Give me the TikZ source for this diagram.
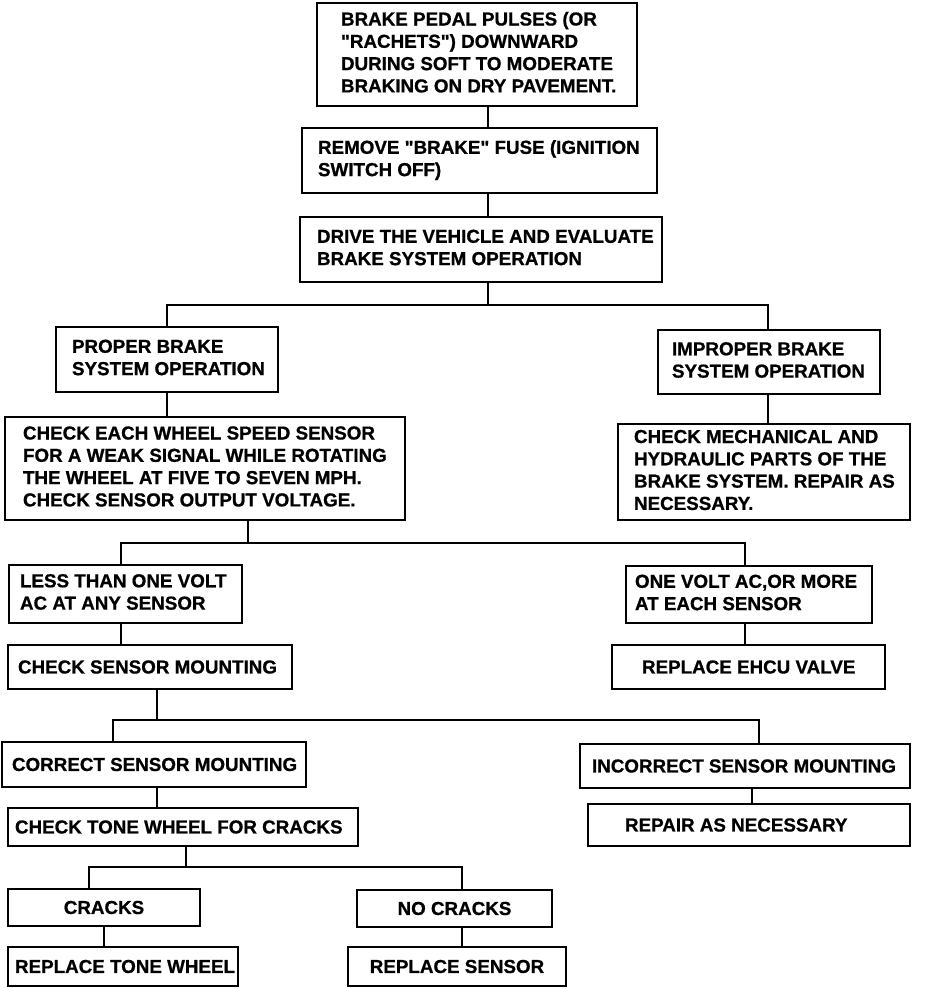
\documentclass[tikz,border=0pt]{standalone}
\usepackage{fontspec}
\newfontfamily\boxfont{Liberation Sans}[BoldFeatures={FakeBold=0.8}]
\newcommand{\lbox}[1]{\makebox[\tw pt][l]{\begin{tabular}{@{}l@{}}#1\end{tabular}}}
\newcommand{\lboxs}[1]{\raisebox{-3.5pt}{\makebox[\tw pt][l]{#1}}}
\newcommand{\cboxs}[1]{\raisebox{-3.5pt}{#1}}
\tikzset{
  bx/.style={draw, line width=2.6pt, inner ysep=0pt,
    font=\boxfont\bfseries\fontsize{18.8}{22.3}\selectfont},
  conn/.style={line width=2.6pt, line join=miter},
  dims/.code n args={3}{\pgfmathsetmacro\tw{#1-2*#3}%
    \tikzset{minimum width=#1pt, minimum height=#2pt, inner xsep=#3pt}},
}
\begin{document}
\begin{tikzpicture}[x=1pt,y=-1pt]
\useasboundingbox (0,0) rectangle (944,988);
\fill[white] (0,0) rectangle (944,988);

\node[bx, dims={320}{103}{24}] (b1) at (477,54.5) {\lbox{BRAKE PEDAL PULSES (OR\\"RACHETS") DOWNWARD\\DURING SOFT TO MODERATE\\BRAKING ON DRY PAVEMENT.}};
\node[bx, dims={355}{65}{16}] (b2) at (479.5,160.5) {\lbox{REMOVE "BRAKE" FUSE (IGNITION\\SWITCH OFF)}};
\node[bx, dims={362}{65}{17}] (b3) at (481,249.5) {\lbox{DRIVE THE VEHICLE AND EVALUATE\\BRAKE SYSTEM OPERATION}};
\node[bx, dims={222}{65}{16}] (b4) at (167,359.5) {\lbox{PROPER BRAKE\\SYSTEM OPERATION}};
\node[bx, dims={222}{64}{14}] (b5) at (769,362) {\lbox{IMPROPER BRAKE\\SYSTEM OPERATION}};
\node[bx, dims={400}{103}{18}] (b6) at (205,468.5) {\lbox{CHECK EACH WHEEL SPEED SENSOR\\FOR A WEAK SIGNAL WHILE ROTATING\\THE WHEEL AT FIVE TO SEVEN MPH.\\CHECK SENSOR OUTPUT VOLTAGE.}};
\node[bx, dims={292}{96}{16}] (b7) at (764,472) {\lbox{CHECK MECHANICAL AND\\HYDRAULIC PARTS OF THE\\BRAKE SYSTEM. REPAIR AS\\NECESSARY.}};
\node[bx, dims={233}{58}{11}] (b8) at (125.5,594) {\lbox{LESS THAN ONE VOLT\\AC AT ANY SENSOR}};
\node[bx, dims={246}{57}{9}] (b9) at (749,594.5) {\lbox{ONE VOLT AC,OR MORE\\AT EACH SENSOR}};
\node[bx, dims={284}{44}{10}] (b10) at (150,667) {\lboxs{CHECK SENSOR MOUNTING}};
\node[bx, dims={273}{44}{30}] (b11) at (748.5,667) {\lboxs{REPLACE EHCU VALVE}};
\node[bx, dims={304}{45}{10}] (b12) at (154,764.5) {\lboxs{CORRECT SENSOR MOUNTING}};
\node[bx, dims={330}{44}{12}] (b13) at (745,766) {\lboxs{INCORRECT SENSOR MOUNTING}};
\node[bx, dims={350}{38}{7}] (b14) at (183,827) {\lboxs{CHECK TONE WHEEL FOR CRACKS}};
\node[bx, dims={322}{42}{37}] (b15) at (749,825) {\lboxs{REPAIR AS NECESSARY}};
\node[bx, dims={192}{37}{5}] (b16) at (104,907.5) {\cboxs{CRACKS}};
\node[bx, dims={195}{37}{5}] (b17) at (454.5,908.5) {\cboxs{NO CRACKS}};
\node[bx, dims={230}{39}{7}] (b18) at (123,966.5) {\lboxs{REPLACE TONE WHEEL}};
\node[bx, dims={218}{39}{5}] (b19) at (457,966.5) {\cboxs{REPLACE SENSOR}};

\coordinate (j1) at (488,305); \coordinate (j1l) at (167,305); \coordinate (j1r) at (768,305);
\coordinate (j2) at (248,543); \coordinate (j2l) at (121,543); \coordinate (j2r) at (745,543);
\coordinate (j3) at (157,720); \coordinate (j3l) at (113,720); \coordinate (j3r) at (759,720);
\coordinate (j4) at (186,867); \coordinate (j4l) at (89,867);  \coordinate (j4r) at (462,867);
\coordinate (c13) at (752,0); \coordinate (c16) at (104,0);

\draw[conn] (b1.south -| j1) -- (b2.north -| j1);
\draw[conn] (b2.south -| j1) -- (b3.north -| j1);
\draw[conn] (b3.south -| j1) -- (j1);
\draw[conn] (b4.north -| j1l) -- (j1l) -- (j1r) -- (b5.north -| j1r);
\draw[conn] (b4.south -| j1l) -- (b6.north -| j1l);
\draw[conn] (b5.south -| j1r) -- (b7.north -| j1r);

\draw[conn] (b6.south -| j2) -- (j2);
\draw[conn] (b8.north -| j2l) -- (j2l) -- (j2r) -- (b9.north -| j2r);
\draw[conn] (b8.south -| j2l) -- (b10.north -| j2l);
\draw[conn] (b9.south -| j2r) -- (b11.north -| j2r);

\draw[conn] (b10.south -| j3) -- (j3);
\draw[conn] (b12.north -| j3l) -- (j3l) -- (j3r) -- (b13.north -| j3r);
\draw[conn] (b12.south -| j3) -- (b14.north -| j3);
\draw[conn] (b13.south -| c13) -- (b15.north -| c13);

\draw[conn] (b14.south -| j4) -- (j4);
\draw[conn] (b16.north -| j4l) -- (j4l) -- (j4r) -- (b17.north -| j4r);
\draw[conn] (b16.south -| c16) -- (b18.north -| c16);
\draw[conn] (b17.south -| j4r) -- (b19.north -| j4r);
\end{tikzpicture}
\end{document}
